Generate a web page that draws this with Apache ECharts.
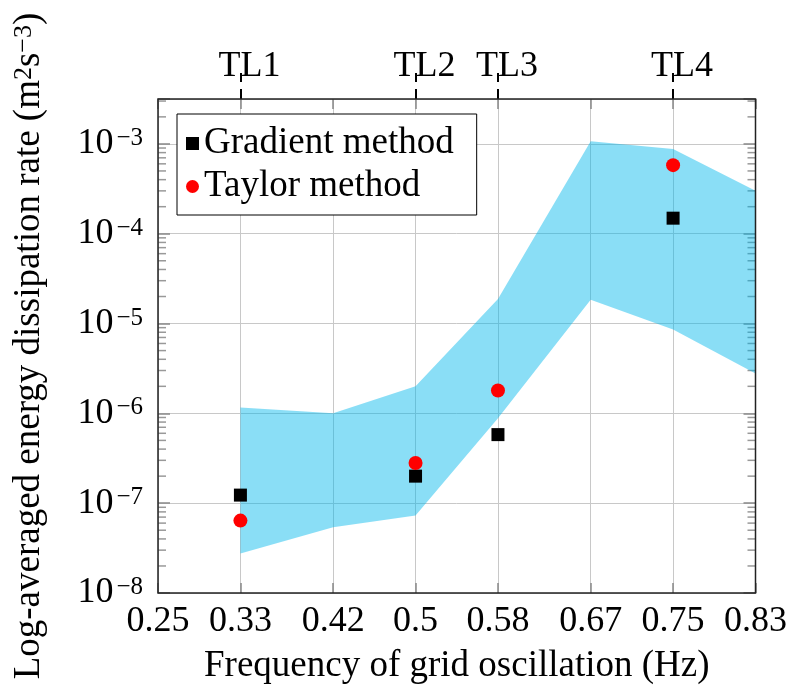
<!DOCTYPE html>
<html>
<head>
<meta charset="utf-8">
<script src="https://cdn.jsdelivr.net/npm/echarts@6/dist/echarts.min.js"></script>
<style>html,body{margin:0;padding:0;background:#fff}#c{width:790px;height:690px}</style>
</head>
<body>
<div id="c"></div>
<script>
// ---- data ----
const xTicks = [0.25, 0.33, 0.42, 0.5, 0.58, 0.67, 0.75, 0.83];
const xTickLabels = ['0.25', '0.33', '0.42', '0.5', '0.58', '0.67', '0.75', '0.83'];
const tlValues = [0.33, 0.5, 0.58, 0.75];
const tlLabels = ['TL1', 'TL2', 'TL3', 'TL4'];
const bandX = [0.33, 0.42, 0.5, 0.58, 0.67, 0.75, 0.83];
const bandUpper = [1.16e-6, 1.0e-6, 2.0e-6, 1.88e-5, 1.07e-3, 8.8e-4, 3.0e-4];
const bandLower = [2.75e-8, 5.4e-8, 7.3e-8, 8.8e-7, 1.84e-5, 8.6e-6, 2.77e-6];
const gradX = [0.33, 0.5, 0.58, 0.75];
const gradY = [1.23e-7, 2.0e-7, 5.8e-7, 1.49e-4];
const taylorX = [0.33, 0.5, 0.58, 0.75];
const taylorY = [6.4e-8, 2.8e-7, 1.8e-6, 5.8e-4];
const yMin = 1e-8, yMax = 3.1623e-3;
const minorMult = [2, 3, 4, 5, 6, 7, 8, 9];
const decades = [1e-8, 1e-7, 1e-6, 1e-5, 1e-4, 1e-3];

const FONT = 'Liberation Serif';
const minorVals = [];
decades.forEach(d => minorMult.forEach(m => { if (m * d < yMax) minorVals.push(m * d); }));

const chart = echarts.init(document.getElementById('c'), null, {renderer: 'canvas'});
chart.setOption({
  animation: false,
  backgroundColor: '#fff',
  grid: {left: 158, right: 32, top: 99, bottom: 94, show: true, borderColor: '#222', borderWidth: 1.5, backgroundColor: 'transparent', z: 10},
  legend: {
    orient: 'vertical', left: 177, top: 114,
    padding: [11, 23, 10, 9], itemGap: 6,
    itemWidth: 13, itemHeight: 13,
    borderColor: '#000', borderWidth: 1, backgroundColor: '#fff',
    textStyle: {fontFamily: FONT, fontSize: 37, color: '#000', lineHeight: 36},
    data: ['Gradient method', 'Taylor method'], z: 20
  },
  xAxis: [{
    type: 'value', min: 0.25, max: 0.83, position: 'bottom',
    axisLine: {show: false},
    axisTick: {show: true, inside: true, length: 10, customValues: xTicks, lineStyle: {color: '#888', width: 1.5}},
    axisLabel: {customValues: xTicks, fontFamily: FONT, fontSize: 36, color: '#000', margin: 11,
      formatter: v => { const i = xTicks.findIndex(t => Math.abs(t - v) < 1e-9); return i >= 0 ? xTickLabels[i] : ''; }},
    splitLine: {show: true, lineStyle: {color: '#c8c8c8', width: 1}},
    name: 'Frequency of grid oscillation (Hz)', nameLocation: 'middle', nameGap: 55,
    nameTextStyle: {fontFamily: FONT, fontSize: 37, color: '#000'}
  }, {
    type: 'value', min: 0.25, max: 0.83, position: 'top',
    axisLine: {show: false},
    axisTick: {show: true, inside: false, length: 26, customValues: tlValues, lineStyle: {color: '#000', width: 2, type: [10, 7]}},
    axisLabel: {customValues: tlValues, fontFamily: FONT, fontSize: 36, color: '#000', margin: 14, padding: [0, 0, 0, 18],
      formatter: v => { const i = tlValues.findIndex(t => Math.abs(t - v) < 1e-9); return i >= 0 ? tlLabels[i] : ''; }},
    splitLine: {show: false}
  }, {
    type: 'value', min: 0.25, max: 0.83, position: 'top',
    axisLine: {show: false},
    axisTick: {show: true, inside: true, length: 10, customValues: xTicks, lineStyle: {color: '#888', width: 1.5}},
    axisLabel: {show: false}, splitLine: {show: false}
  }],
  yAxis: [{
    type: 'log', logBase: 10, min: yMin, max: yMax, position: 'left', splitNumber: 6,
    axisLine: {show: false},
    axisTick: {show: true, inside: true, length: 12, lineStyle: {color: '#888', width: 1.5}},
    axisLabel: {fontFamily: FONT, fontSize: 36, color: '#000', margin: 15,
      formatter: v => {
        const e = Math.log10(v);
        if (Math.abs(e - Math.round(e)) > 1e-6) return '';
        return '{b|10}{s|' + String(Math.round(e)).replace('-', '−') + '}';
      },
      rich: {b: {fontFamily: FONT, fontSize: 36, color: '#000', verticalAlign: 'bottom'},
             s: {fontFamily: FONT, fontSize: 25, color: '#000', verticalAlign: 'top', padding: [0, 0, 0, 3]}}},
    splitLine: {show: true, lineStyle: {color: '#c8c8c8', width: 1}},
    name: 'Log-averaged energy dissipation rate (m{s|2}s{s|−3})',
    nameLocation: 'middle', nameGap: 110, nameRotate: 90,
    nameTextStyle: {fontFamily: FONT, fontSize: 37, color: '#000',
      rich: {s: {fontFamily: FONT, fontSize: 26, color: '#000', verticalAlign: 'top'}}}
  }, {
    type: 'log', logBase: 10, min: yMin, max: yMax, position: 'right', splitNumber: 6,
    axisLine: {show: false},
    axisTick: {show: true, inside: true, length: 12, lineStyle: {color: '#888', width: 1.5}},
    axisLabel: {show: false}, splitLine: {show: false}
  }],
  series: [{
    type: 'scatter', name: 'minorLeft', silent: true, z: 1, symbol: 'rect',
    symbolSize: [8, 1.5], symbolOffset: [4, 0], itemStyle: {color: '#999', opacity: 1},
    data: minorVals.map(v => [0.25, v]), clip: false
  }, {
    type: 'scatter', name: 'minorRight', silent: true, z: 1, symbol: 'rect',
    symbolSize: [8, 1.5], symbolOffset: [-4, 0], itemStyle: {color: '#999', opacity: 1},
    data: minorVals.map(v => [0.83, v]), clip: false
  }, {
    type: 'custom', name: 'band', xAxisIndex: 0, yAxisIndex: 0, silent: true, z: 2,
    data: [[bandX[0], bandUpper[0]]],
    renderItem: (params, api) => {
      const pts = [];
      for (let i = 0; i < bandX.length; i++) pts.push(api.coord([bandX[i], bandUpper[i]]));
      for (let i = bandX.length - 1; i >= 0; i--) pts.push(api.coord([bandX[i], bandLower[i]]));
      return {type: 'polygon', shape: {points: pts}, style: {fill: 'rgba(0,184,235,0.46)'}};
    }
  }, {
    type: 'scatter', name: 'Gradient method', symbol: 'rect', symbolSize: 13, z: 5,
    itemStyle: {color: '#000', opacity: 1},
    data: gradX.map((x, i) => [x, gradY[i]])
  }, {
    type: 'scatter', name: 'Taylor method', symbol: 'circle', symbolSize: 14, z: 5,
    itemStyle: {color: '#ff0000', opacity: 1},
    data: taylorX.map((x, i) => [x, taylorY[i]])
  }]
});
</script>
</body>
</html>
